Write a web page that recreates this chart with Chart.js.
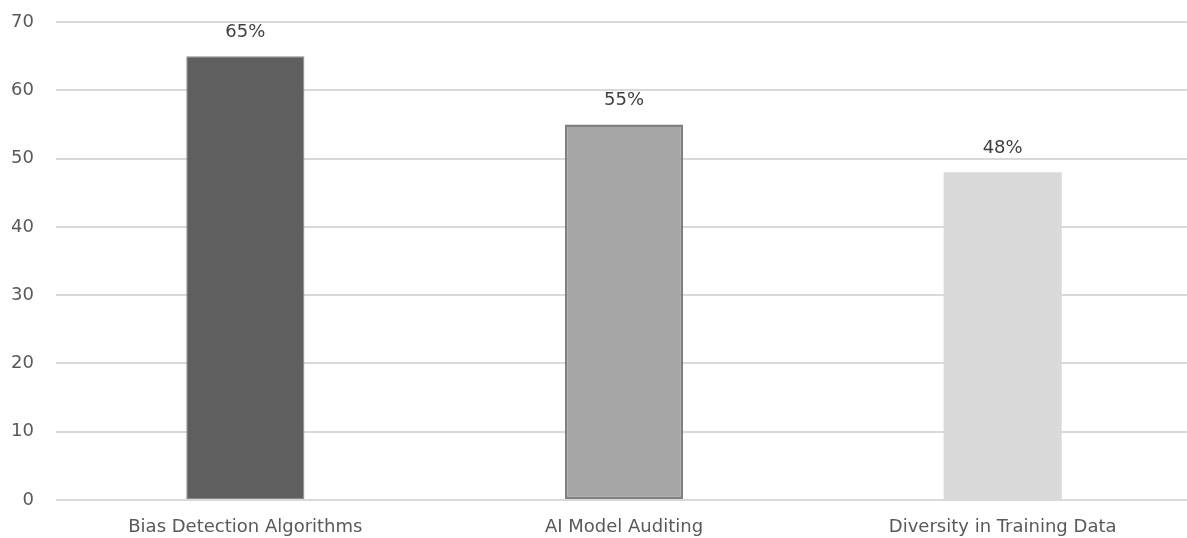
<!DOCTYPE html>
<html>
<head>
<meta charset="utf-8">
<script src="https://cdn.jsdelivr.net/npm/chart.js@4"></script>
<style>
  html, body { margin: 0; padding: 0; background: #ffffff; overflow: hidden; }
  #clip { width: 1187px; height: 538px; overflow: hidden; position: relative; }
  #wrap { width: 1192px; height: 538px; position: relative; }
</style>
</head>
<body>
<div id="clip"><div id="wrap"><canvas id="chart"></canvas></div></div>
<script>
// Adoption of bias-mitigation practices (percent)
const categories = ['Bias Detection Algorithms', 'AI Model Auditing', 'Diversity in Training Data'];
const values = [65, 55, 48];
const valueLabels = ['65%', '55%', '48%'];
const yTicks = [0, 10, 20, 30, 40, 50, 60, 70];

const fillColors = ['#5f5f5f', '#a6a6a6', '#d9d9d9'];
const edgeColors = ['#8a8a8a', '#7f7f7f', '#d9d9d9'];
const edgeWidths = [1, 2.5, 0];

const FONT = '"DejaVu Sans", sans-serif';

// Writes each bar's value label just above its top
const valueLabelPlugin = {
  id: 'valueLabels',
  afterDatasetsDraw(chart) {
    const ctx = chart.ctx;
    const meta = chart.getDatasetMeta(0);
    ctx.save();
    ctx.font = '18px ' + FONT;
    ctx.fillStyle = '#404040';
    ctx.textAlign = 'center';
    ctx.textBaseline = 'alphabetic';
    meta.data.forEach((bar, i) => {
      ctx.fillText(valueLabels[i], bar.x, bar.y - 19);
    });
    ctx.restore();
  }
};

new Chart(document.getElementById('chart'), {
  type: 'bar',
  data: {
    labels: categories,
    datasets: [{
      data: values,
      backgroundColor: fillColors,
      borderColor: edgeColors,
      borderWidth: edgeWidths,
      borderSkipped: false,
      barPercentage: 0.312,
      categoryPercentage: 1.0
    }]
  },
  options: {
    responsive: true,
    maintainAspectRatio: false,
    animation: false,
    layout: { padding: { top: 22, left: 10, right: 0, bottom: 0 } },
    plugins: {
      legend: { display: false },
      tooltip: { enabled: false }
    },
    scales: {
      x: {
        grid: { display: false, drawTicks: false },
        border: { display: false },
        ticks: {
          color: '#595959',
          font: { family: FONT, size: 18 },
          padding: 17,
          maxRotation: 0
        },
        afterFit(scale) { scale.height = 38; }
      },
      y: {
        min: 0,
        max: 70,
        afterBuildTicks(axis) { axis.ticks = yTicks.map(v => ({ value: v })); },
        grid: { color: '#d9d9d9', lineWidth: 2, drawTicks: true, tickLength: 20, tickColor: 'rgba(0,0,0,0)' },
        border: { display: false },
        ticks: {
          color: '#595959',
          font: { family: FONT, size: 18 },
          padding: 2
        },
        afterFit(scale) { scale.width = 46; }
      }
    }
  },
  plugins: [valueLabelPlugin]
});
</script>
</body>
</html>
